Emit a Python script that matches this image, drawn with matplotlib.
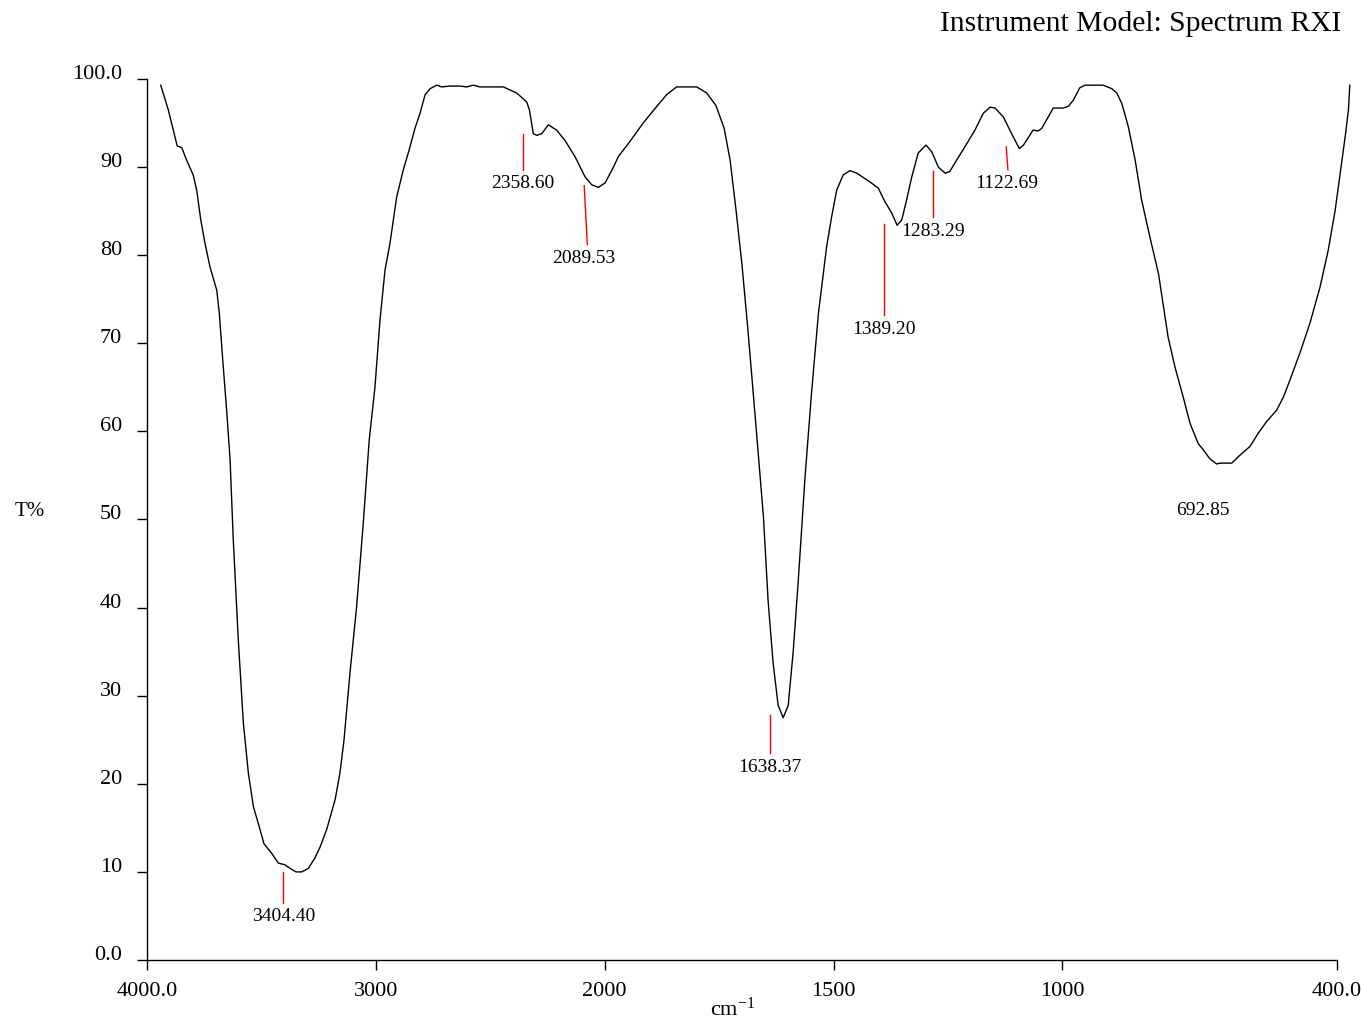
import matplotlib.pyplot as plt
import matplotlib as mpl
import numpy as np
from matplotlib.ticker import FixedLocator, FixedFormatter

mpl.rcParams['font.family'] = ['Liberation Serif', 'DejaVu Serif']
mpl.rcParams['mathtext.default'] = 'regular'

# spectrum (wavenumber in cm-1, transmittance in %)
wavenumber = [3940, 3907, 3885, 3868, 3848, 3827, 3798, 3783, 3765, 3747, 3725, 3695,
              3684, 3669, 3652, 3637, 3623, 3601, 3579, 3557, 3535, 3506, 3489, 3455,
              3426, 3397, 3375, 3349, 3324, 3295, 3266, 3244, 3215, 3178, 3157, 3139,
              3113, 3084, 3055, 3029, 3004, 2982, 2960, 2938, 2909, 2880, 2855, 2829,
              2807, 2785, 2763, 2734, 2712, 2676, 2632, 2603, 2574, 2545, 2443, 2384,
              2341, 2329, 2312, 2297, 2275, 2246, 2210, 2173, 2130, 2086, 2057, 2028,
              1999, 1981, 1970, 1945, 1916, 1886, 1865, 1843, 1799, 1777, 1757, 1739,
              1726, 1713, 1700, 1687, 1668, 1653, 1643, 1632, 1621, 1610, 1599, 1588,
              1577, 1562, 1548, 1533, 1515, 1504, 1493, 1479, 1464, 1449, 1420, 1402,
              1388, 1373, 1361, 1351, 1342, 1329, 1315, 1298, 1285, 1271, 1256, 1246,
              1231, 1213, 1191, 1173, 1158, 1147, 1129, 1111, 1094, 1085, 1064, 1053,
              1045, 1020, 998, 987, 976, 962, 951, 911, 892, 881, 870, 856,
              841, 827, 809, 790, 780, 769, 754, 736, 721, 703, 692, 678,
              663, 656, 630, 612, 590, 572, 554, 532, 517, 503, 481, 459,
              437, 419, 404, 393, 382, 375, 372]
transmittance = [99.3, 96.5, 94.2, 92.4, 92.2, 90.8, 89.1, 87.4, 84.0, 81.4, 78.7, 76.0,
                 73.4, 68.1, 62.4, 56.8, 47.7, 36.3, 26.9, 21.2, 17.4, 14.8, 13.2, 12.1,
                 11.0, 10.8, 10.4, 10.0, 10.0, 10.4, 11.6, 12.8, 14.8, 18.2, 21.2, 25.0,
                 32.6, 40.1, 49.6, 59.0, 65.0, 72.6, 78.3, 81.4, 86.6, 89.7, 91.9, 94.4,
                 96.1, 98.2, 98.9, 99.3, 99.1, 99.2, 99.2, 99.1, 99.3, 99.1, 99.1, 98.4,
                 97.4, 96.5, 93.8, 93.6, 93.8, 94.8, 94.2, 93.0, 91.2, 88.9, 88.0, 87.7,
                 88.2, 90.0, 91.2, 92.9, 95.0, 96.9, 98.2, 99.1, 99.1, 98.4, 97.0, 94.4,
                 90.8, 85.1, 78.9, 71.5, 59.7, 50.2, 40.8, 33.7, 28.9, 27.5, 28.9, 35.1,
                 43.1, 55.0, 64.4, 73.4, 81.0, 84.4, 87.4, 89.1, 89.6, 89.3, 88.3, 87.6,
                 86.1, 84.8, 83.4, 84.0, 85.9, 88.9, 91.6, 92.5, 91.7, 90.0, 89.3, 89.5,
                 90.8, 92.3, 94.2, 96.1, 96.8, 96.7, 95.7, 93.8, 92.1, 92.5, 94.2, 94.1,
                 94.4, 96.7, 96.7, 96.9, 97.6, 99.0, 99.3, 99.3, 98.9, 98.4, 97.2, 94.6,
                 90.8, 86.3, 82.1, 77.9, 74.5, 70.7, 67.3, 63.9, 60.9, 58.6, 57.9, 56.9,
                 56.3, 56.4, 56.4, 57.3, 58.3, 59.8, 61.1, 62.4, 63.9, 65.8, 68.9, 72.3,
                 76.4, 80.6, 85.1, 89.3, 93.5, 96.5, 99.3]

# peak picks
peak_labels = ['3404.40', '2358.60', '2089.53', '1638.37', '1389.20', '1283.29', '1122.69', '692.85']
peak_top_x = [3404.40, 2358.60, 2089.53, 1638.37, 1389.20, 1283.29, 1122.69, 692.85]
peak_bot_x = [3404.40, 2358.60, 2076.0, 1638.37, 1389.20, 1283.29, 1119.0, 692.85]
peak_top_y = [10.0, 93.8, 87.9, 27.8, 83.5, 89.6, 92.3, None]
peak_bot_y = [6.5, 89.7, 81.2, 23.5, 73.2, 84.3, 89.7, None]
peak_text_y = [4.9, 88.1, 79.6, 21.8, 71.6, 82.7, 88.1, 51.0]

xticks = [4000, 3000, 2000, 1500, 1000, 400]
xtick_labels = ['4000.0', '3000', '2000', '1500', '1000', '400.0']
yticks = [0, 10, 20, 30, 40, 50, 60, 70, 80, 90, 100]
ytick_labels = ['0.0', '10', '20', '30', '40', '50', '60', '70', '80', '90', '100.0']


# IR x axis: half scale above 2000 cm-1
def fwd(x):
    x = np.asarray(x, dtype=float)
    return np.where(x > 2000, 2000 + (x - 2000) / 2.0, x)


def inv(f):
    f = np.asarray(f, dtype=float)
    return np.where(f > 2000, 2000 + (f - 2000) * 2.0, f)


fig = plt.figure(figsize=(13.61, 10.22), dpi=100)
ax = fig.add_axes([0.10801, 0.060665, 0.87435, 0.86204])

ax.set_xscale('function', functions=(fwd, inv))
ax.set_xlim(4000, 400)
ax.set_ylim(0, 100)

ax.plot(wavenumber, transmittance, color='black', linewidth=1.0, clip_on=False)

for i in range(len(peak_labels)):
    if peak_top_y[i] is not None:
        ax.plot([peak_top_x[i], peak_bot_x[i]], [peak_top_y[i], peak_bot_y[i]],
                color='red', linewidth=1.0)
    ax.text(peak_top_x[i], peak_text_y[i], peak_labels[i], ha='center', va='center',
            fontsize=14)

ax.spines['top'].set_visible(False)
ax.spines['right'].set_visible(False)
for s in ['left', 'bottom']:
    ax.spines[s].set_linewidth(1.0)
    ax.spines[s].set_color('black')

ax.xaxis.set_major_locator(FixedLocator(xticks))
ax.xaxis.set_major_formatter(FixedFormatter(xtick_labels))
ax.xaxis.set_minor_locator(FixedLocator([]))
ax.yaxis.set_major_locator(FixedLocator(yticks))
ax.yaxis.set_major_formatter(FixedFormatter(ytick_labels))
ax.tick_params(axis='both', direction='out', length=7, width=1.0, labelsize=16)
ax.tick_params(axis='y', pad=11)
ax.tick_params(axis='x', pad=9)
# y labels sit on the tick (baseline aligned), as in the original
plt.setp(ax.get_yticklabels(), va='baseline')

fig.text(1341 / 1361, 1 - 24 / 1022, 'Instrument Model: Spectrum RXI', ha='right', va='center',
         fontsize=21.3)
fig.text(15 / 1361, 1 - 512 / 1022, 'T%', ha='left', va='center', fontsize=15)
fig.text(733 / 1361, 1 - 1016 / 1022, r'cm$^{-1}$', ha='center', va='baseline', fontsize=16)

fig.savefig('out.png', dpi=100)
